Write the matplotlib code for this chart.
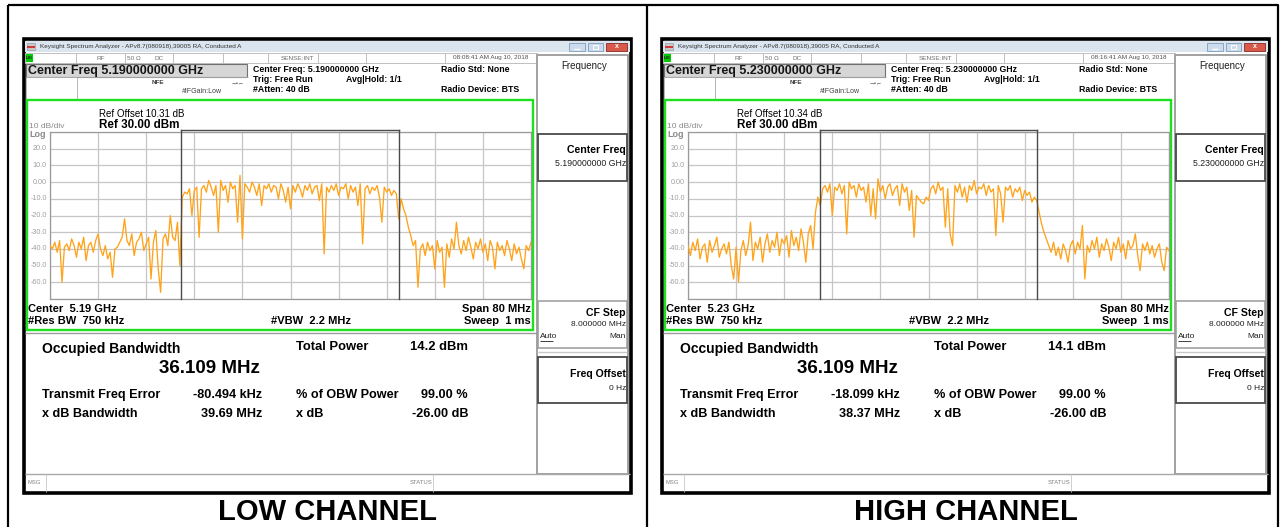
import matplotlib
matplotlib.use('Agg')
import matplotlib.pyplot as plt
from matplotlib.patches import Rectangle
import numpy as np

plt.rcParams['font.family'] = ['Liberation Sans', 'DejaVu Sans']

# ---------------- data ----------------
span_mhz = 80
sweep_points = 201
freq_offset_mhz = np.linspace(-span_mhz / 2, span_mhz / 2, sweep_points)

low_trace = [
    -38, -40, -36, -42, -35, -60, -39, -37, -41, -34,
    -38, -45, -36, -40, -33, -47, -38, -36, -42, -35,
    -31, -40, -44, -38, -46, -42, -57, -40, -39, -36,
    -33, -22, -35, -38, -31, -44, -36, -34, -30, -41,
    -37, -33, -58, -36, -29, -52, -66, -34, -31, -38,
    -20, -33, -35, -24, -50, -9, -6, -7, -4, -20,
    -5, -3, -33, -4, -2, -6, 1, -3, -8, -2,
    -30, 1, -5, -2, -12, 0, -4, -2, -24, 4,
    -34, -1, -3, -6, 0, -3, -8, -1, -14, -2,
    -4, -1, -6, -2, -3, -10, -1, -5, -12, -3,
    -16, -2, -6, -1, -4, -9, -2, -5, -1, -7,
    -3, -2, -11, -1, -43, -3, -6, -2, -5, -1,
    -8, -3, -4, -1, -10, -2, -6, -3, -14, -1,
    -37, -4, -2, -7, -3, -5, -2, -9, -24, -3,
    -6, -4, -8, -5, -7, -22, -10, -16, -20, -27,
    -32, -38, -35, -63, -40, -37, -44, -36, -41, -38,
    -52, -35, -42, -39, -63, -37, -45, -34, -40, -24,
    -38, -43, -35, -41, -33, -39, -46, -36, -40, -34,
    -42, -37, -47, -35, -39, -52, -36, -41, -38, -44,
    -35, -40, -47, -37, -43, -39, -46, -52, -38, -41,
    -36,
]

high_trace = [
    -38, -44, -36, -41, -34, -46, -39, -37, -48, -35,
    -42, -38, -33, -45, -40, -37, -43, -36, -50, -58,
    -39, -60, -41, -35, -44, -38, -24, -47, -36, -40,
    -33, -48, -37, -31, -42, -35, -39, -30, -44, -34,
    -37, -32, -45, -29, -38, -33, -41, -28, -36, -48,
    -31, -26, -40, -18, -9, -14, -4, -2, -6, -1,
    -20, -3, -5, -1, -7, -2, -31, 0, -4, -2,
    -9, -1, -5, -3, -12, -1, -20, -4, -22, 2,
    -6, -2, -10, -3, -1, -8, -4, -2, -14, -1,
    -6, -3, -17, -5, -33, -8, -10, -12, -13, -9,
    -11, -4, -2, -7, 0, -5, -3, -27, -4, -31,
    -38, -2, -6, -1, -9, -3, -12, -2, -5, 1,
    -7, -3, -4, -1, -8, -2, -6, -4, -32, -2,
    -7, -24, -3, -5, -2, -9, -4, -6, -3, -11,
    -5, -8, -6, -12, -9, -11, -18, -25, -30, -34,
    -38, -42, -36, -44, -39, -46, -37, -41, -48, -38,
    -35, -43, -36, -40, -26, -58, -38, -42, -35, -40,
    -33, -45, -37, -41, -34, -39, -47, -36, -40, -33,
    -42, -37, -46, -35, -40, -38, -31, -44, -53, -37,
    -41, -36, -43, -38, -45, -40, -37, -48, -53, -39,
    -41,
]

traces = [low_trace, high_trace]
panel_titles = ['LOW CHANNEL', 'HIGH CHANNEL']
center_freq_ghz = ['5.190000000', '5.230000000']
center_short = ['5.19', '5.23']
timestamps = ['08:08:41 AM Aug 10, 2018', '08:16:41 AM Aug 10, 2018']
ref_offsets_db = ['10.31', '10.34']
occupied_bw_mhz = [36.109, 36.109]
total_power_dbm = [14.2, 14.1]
freq_error_khz = [-80.494, -18.099]
xdb_bw_mhz = [39.69, 38.37]
obw_power_pct = [99.00, 99.00]
xdb_value = [-26.00, -26.00]
ytick_values = [20, 10, 0, -10, -20, -30, -40, -50, -60]
ytick_labels = ['20.0', '10.0', '0.00', '-10.0', '-20.0', '-30.0', '-40.0', '-50.0', '-60.0']
ref_level = 30
db_per_div = 10

# ---------------- figure ----------------
W, H = 1283, 527
fig = plt.figure(figsize=(W / 100, H / 100), dpi=100)
bg = fig.add_axes([0, 0, 1, 1], zorder=0)
bg.set_xlim(0, W)
bg.set_ylim(H, 0)
bg.axis('off')


def rect(x, y, w, h, **kw):
    kw.setdefault('fc', 'none')
    kw.setdefault('ec', 'none')
    bg.add_patch(Rectangle((x, y), w, h, **kw))


def line(xs, ys, **kw):
    bg.plot(xs, ys, solid_capstyle='butt', **kw)


def txt(x, y, s, size, **kw):
    kw.setdefault('va', 'center')
    kw.setdefault('ha', 'left')
    kw.setdefault('color', 'black')
    bg.text(x, y, s, fontsize=size, **kw)


# outer table frame
line([8, 1278, 1278], [5, 5, 527], color='black', lw=1.6)
line([8, 8], [5, 527], color='black', lw=1.6)
line([647, 647], [5, 527], color='black', lw=1.6)

plot_x0, plot_x1 = 50, 531
plot_y0, plot_y1 = 132, 299


def ypix(v):
    return plot_y0 + (ref_level - v) / (db_per_div * 10) * (plot_y1 - plot_y0)


for k in range(2):
    dx = 0 if k == 0 else 638
    # window
    rect(24 + dx, 39, 607, 454, fc='white', ec='black', lw=2.6)
    # title bar
    rect(25 + dx, 41, 605, 11, fc='#dbe5ef')
    rect(27 + dx, 43, 8, 7, fc='#c8c8c8', ec='#909090', lw=0.4)
    rect(27 + dx, 46, 8, 2, fc='#d03a3a')
    txt(40 + dx, 46.5, 'Keysight Spectrum Analyzer - APv8.7(080918),39005 RA, Conducted A', 4.6, color='#333333')
    rect(569 + dx, 43, 16, 8, fc='#cddcec', ec='#7f9db9', lw=0.6)
    line([574 + dx, 580 + dx], [48.5, 48.5], color='white', lw=1)
    rect(588 + dx, 43, 15, 8, fc='#cddcec', ec='#7f9db9', lw=0.6)
    rect(593 + dx, 45, 5, 4, ec='white', lw=0.7)
    rect(606 + dx, 43, 21, 8, fc='#d9594b', ec='#8b2a20', lw=0.6)
    txt(616.5 + dx, 47, 'x', 5, ha='center', color='white', weight='bold')
    # status row
    rect(25 + dx, 53, 512, 10, fc='white', ec='#b5b5b5', lw=0.6)
    for sx in [76, 125, 173, 223, 268, 318, 366, 445]:
        line([sx + dx, sx + dx], [53, 63], color='#b5b5b5', lw=0.6)
    rect(26 + dx, 54, 7, 8, fc='#00cc00')
    txt(29.5 + dx, 58, 'LXI', 3.2, ha='center', color='#202020', weight='bold')
    txt(101 + dx, 58, 'RF', 4.6, ha='center', color='#707070')
    txt(134 + dx, 58, '50 Ω', 4.6, ha='center', color='#707070')
    txt(159 + dx, 58, 'DC', 4.6, ha='center', color='#707070')
    txt(298 + dx, 58, 'SENSE:INT', 4.6, ha='center', color='#707070')
    txt(491 + dx, 58, timestamps[k], 4.6, ha='center', color='#505050')
    # center freq box
    rect(26 + dx, 64, 221, 13, fc='#d6d6d6', ec='#707070', lw=0.8)
    txt(28 + dx, 70.8, 'Center Freq ' + center_freq_ghz[k] + ' GHz', 9, weight='bold', color='#151515')
    rect(26 + dx, 77, 51, 22, fc='white', ec='#a8a8a8', lw=0.6)
    line([77 + dx, 248 + dx], [77, 77], color='#a8a8a8', lw=0.6)
    txt(152 + dx, 83, 'NFE', 4.6, color='#404040', weight='bold')
    txt(231 + dx, 83.5, '→•←', 4.2, color='#404040')
    txt(182 + dx, 91.5, '#IFGain:Low', 5, color='#404040')
    txt(253 + dx, 69, 'Center Freq: ' + center_freq_ghz[k] + ' GHz', 6.3, weight='bold')
    txt(253 + dx, 79, 'Trig: Free Run', 6.3, weight='bold')
    txt(253 + dx, 89.5, '#Atten: 40 dB', 6.3, weight='bold')
    txt(346 + dx, 79, 'Avg|Hold: 1/1', 6.3, weight='bold')
    txt(441 + dx, 69, 'Radio Std: None', 6.3, weight='bold')
    txt(441 + dx, 90, 'Radio Device: BTS', 6.3, weight='bold')

    # softkey panel
    rect(537 + dx, 55, 91, 419, fc='white', ec='#9a9a9a', lw=1.3)
    txt(584 + dx, 66, 'Frequency', 7, ha='center', color='#202020')
    rect(538 + dx, 134, 89, 47, fc='white', ec='#4a4a4a', lw=1.3)
    txt(626 + dx, 150, 'Center Freq', 7.6, ha='right', weight='bold')
    txt(626 + dx, 163, center_freq_ghz[k] + ' GHz', 6.3, ha='right', color='#202020')
    rect(538 + dx, 301, 89, 47, fc='white', ec='#9a9a9a', lw=1.1)
    line([538 + dx, 627 + dx], [352, 352], color='#c8c8c8', lw=1)
    rect(538 + dx, 357, 89, 46, fc='white', ec='#4a4a4a', lw=1.3)
    txt(626 + dx, 313, 'CF Step', 7.6, ha='right', weight='bold')
    txt(626 + dx, 325, '8.000000 MHz', 6, ha='right', color='#202020')
    txt(540 + dx, 337, 'Auto', 6, color='#202020')
    line([540 + dx, 553 + dx], [341, 341], color='#202020', lw=0.6)
    txt(626 + dx, 337, 'Man', 6, ha='right', color='#202020')
    txt(626 + dx, 374, 'Freq Offset', 7.6, ha='right', weight='bold')
    txt(626 + dx, 388, '0 Hz', 6, ha='right', color='#202020')

    # green graticule box
    rect(27 + dx, 100, 506, 230, ec='#1fe01f', lw=1.7)
    txt(99 + dx, 114, 'Ref Offset ' + ref_offsets_db[k] + ' dB', 7)
    txt(99 + dx, 125.5, 'Ref 30.00 dBm', 8.4, weight='bold')
    txt(29 + dx, 126.5, '10 dB/div', 6, color='#8a8a8a')
    txt(29 + dx, 134.5, 'Log', 6.5, color='#8a8a8a', weight='bold')
    for v, lab in zip(ytick_values, ytick_labels):
        txt(47 + dx, ypix(v), lab, 5.2, ha='right', color='#a0a0a0')
    txt(28 + dx, 308.5, 'Center  ' + center_short[k] + ' GHz', 8, weight='bold')
    txt(28 + dx, 321.5, '#Res BW  750 kHz', 8, weight='bold')
    txt(271 + dx, 321.5, '#VBW  2.2 MHz', 8, weight='bold')
    txt(531 + dx, 308.5, 'Span 80 MHz', 8, ha='right', weight='bold')
    txt(531 + dx, 321.5, 'Sweep  1 ms', 8, ha='right', weight='bold')

    # measurement area
    line([25 + dx, 537 + dx], [333, 333], color='#9a9a9a', lw=1)
    txt(42 + dx, 349, 'Occupied Bandwidth', 10, weight='bold')
    txt(209 + dx, 368.5, f'{occupied_bw_mhz[k]:.3f} MHz', 13.5, ha='center', weight='bold')
    txt(296 + dx, 347, 'Total Power', 9.4, weight='bold')
    txt(468 + dx, 347, f'{total_power_dbm[k]:.1f} dBm', 9.4, ha='right', weight='bold')
    txt(42 + dx, 395, 'Transmit Freq Error', 9.1, weight='bold')
    txt(262 + dx, 395, f'{freq_error_khz[k]:.3f} kHz', 9.1, ha='right', weight='bold')
    txt(296 + dx, 395, '% of OBW Power', 9.1, weight='bold')
    txt(468 + dx, 395, f'{obw_power_pct[k]:.2f} %', 9.1, ha='right', weight='bold')
    txt(42 + dx, 414, 'x dB Bandwidth', 9.1, weight='bold')
    txt(262 + dx, 414, f'{xdb_bw_mhz[k]:.2f} MHz', 9.1, ha='right', weight='bold')
    txt(296 + dx, 414, 'x dB', 9.1, weight='bold')
    txt(468 + dx, 414, f'{xdb_value[k]:.2f} dB', 9.1, ha='right', weight='bold')

    # bottom message bar
    line([25 + dx, 630 + dx], [474, 474], color='#a8a8a8', lw=1)
    line([46 + dx, 46 + dx], [474, 492], color='#c8c8c8', lw=0.6)
    line([433 + dx, 433 + dx], [474, 492], color='#c8c8c8', lw=0.6)
    txt(27 + dx, 483, 'MSG', 4.2, color='#808080')
    txt(410 + dx, 483, 'STATUS', 4.2, color='#808080')

    # caption
    txt(328 + dx, 512, panel_titles[k], 21, ha='center', weight='bold')

    # spectrum plot
    ax = fig.add_axes([(plot_x0 + dx) / W, 1 - plot_y1 / H,
                       (plot_x1 - plot_x0) / W, (plot_y1 - plot_y0) / H], zorder=2)
    ax.set_facecolor('white')
    ax.set_xlim(-span_mhz / 2, span_mhz / 2)
    ax.set_ylim(ref_level - 10 * db_per_div, ref_level)
    ax.set_xticks(np.arange(-40, 41, 8))
    ax.set_yticks(np.arange(-70, 31, 10))
    ax.grid(True, color='#c6c6c6', lw=0.9)
    ax.tick_params(length=0, labelbottom=False, labelleft=False)
    for sp in ax.spines.values():
        sp.set_color('#9a9a9a')
        sp.set_linewidth(0.9)
    ax.plot(freq_offset_mhz, traces[k], color='#ffa31a', lw=0.95, zorder=3)
    fe = freq_error_khz[k] / 1000.0
    lo = fe - occupied_bw_mhz[k] / 2
    hi = fe + occupied_bw_mhz[k] / 2
    mk = dict(color='#4a4a4a', lw=1.0, clip_on=False, zorder=4)
    ax.plot([lo, lo], [-70, 31], **mk)
    ax.plot([hi, hi], [-70, 31], **mk)
    ax.plot([lo, hi], [31, 31], **mk)

fig.savefig('out.png', dpi=100)
